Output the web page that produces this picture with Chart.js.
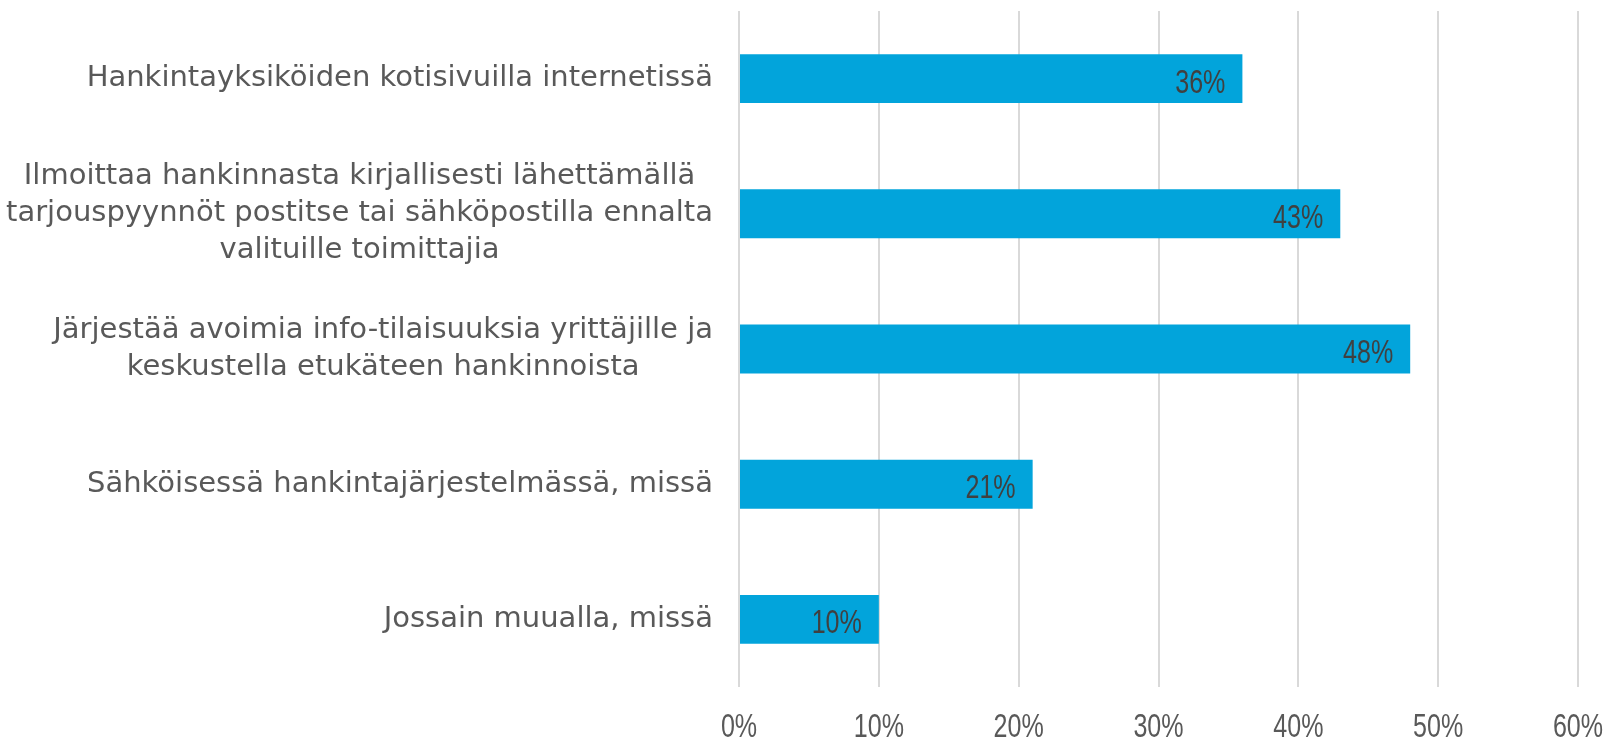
<!DOCTYPE html>
<html>
<head>
<meta charset="utf-8">
<script src="https://cdn.jsdelivr.net/npm/chart.js@4"></script>
<style>
  html, body { margin: 0; padding: 0; background: #fff; }
  #wrap { width: 1609px; height: 744px; }
</style>
</head>
<body>
<div id="wrap"><canvas id="chart"></canvas></div>
<script>
const categories = [
  ["Hankintayksiköiden kotisivuilla internetissä"],
  ["Ilmoittaa hankinnasta kirjallisesti lähettämällä", "tarjouspyynnöt postitse tai sähköpostilla ennalta", "valituille toimittajia"],
  ["Järjestää avoimia info-tilaisuuksia yrittäjille ja", "keskustella etukäteen hankinnoista"],
  ["Sähköisessä hankintajärjestelmässä, missä"],
  ["Jossain muualla, missä"],
];
const values = [36, 43, 48, 21, 10];
const xTicks = [0, 10, 20, 30, 40, 50, 60];

const labelFont = '29px "DejaVu Sans"';
const numFont = '33px "Liberation Sans"';
const narrow = 0.76; // squeeze numbers to mimic the condensed face

function drawNarrow(ctx, text, x, y, align) {
  ctx.save();
  ctx.translate(x, y);
  ctx.scale(narrow, 1);
  ctx.textAlign = align;
  ctx.fillText(text, 0, 0);
  ctx.restore();
}

// bar-end value labels
const valueLabels = {
  id: "valueLabels",
  afterDatasetsDraw(chart) {
    const ctx = chart.ctx;
    const meta = chart.getDatasetMeta(0);
    ctx.save();
    ctx.font = numFont;
    ctx.fillStyle = "#404040";
    ctx.textBaseline = "alphabetic";
    meta.data.forEach((bar, i) => {
      drawNarrow(ctx, values[i] + "%", bar.x - 17, bar.y + 14, "right");
    });
    ctx.restore();
  },
};

// x tick labels and category labels
const axisLabels = {
  id: "axisLabels",
  afterDraw(chart) {
    const ctx = chart.ctx;
    const x = chart.scales.x;
    const y = chart.scales.y;
    ctx.save();
    ctx.font = numFont;
    ctx.fillStyle = "#595959";
    ctx.textBaseline = "alphabetic";
    xTicks.forEach((v) => {
      drawNarrow(ctx, v + "%", x.getPixelForValue(v), chart.chartArea.bottom + 50, "center");
    });

    const rightEdge = chart.chartArea.left - 26;
    const lineH = 37;
    ctx.font = labelFont;
    ctx.textAlign = "center";
    ctx.textBaseline = "middle";
    categories.forEach((lines, i) => {
      const w = Math.max(...lines.map((l) => ctx.measureText(l).width));
      const cx = rightEdge - w / 2;
      const cy = y.getPixelForValue(i);
      const top = cy - ((lines.length - 1) * lineH) / 2;
      lines.forEach((l, j) => ctx.fillText(l, cx, top + j * lineH));
    });
    ctx.restore();
  },
};

new Chart(document.getElementById("chart"), {
  type: "bar",
  data: {
    labels: categories.map((c) => c.join(" ")),
    datasets: [
      {
        data: values,
        backgroundColor: "#02A4DB",
        borderWidth: 0,
        barPercentage: 0.362,
        categoryPercentage: 1,
      },
    ],
  },
  options: {
    indexAxis: "y",
    responsive: true,
    maintainAspectRatio: false,
    animation: false,
    layout: { padding: { left: 739, top: 11, right: 31, bottom: 57 } },
    plugins: {
      legend: { display: false },
      tooltip: { enabled: false },
    },
    scales: {
      x: {
        min: 0,
        max: 60,
        afterBuildTicks: (axis) => {
          axis.ticks = xTicks.map((v) => ({ value: v }));
        },
        grid: { color: "#D9D9D9", lineWidth: 2, drawTicks: false },
        border: { display: false },
        ticks: { display: false },
      },
      y: {
        display: false,
      },
    },
  },
  plugins: [valueLabels, axisLabels],
});
</script>
</body>
</html>
